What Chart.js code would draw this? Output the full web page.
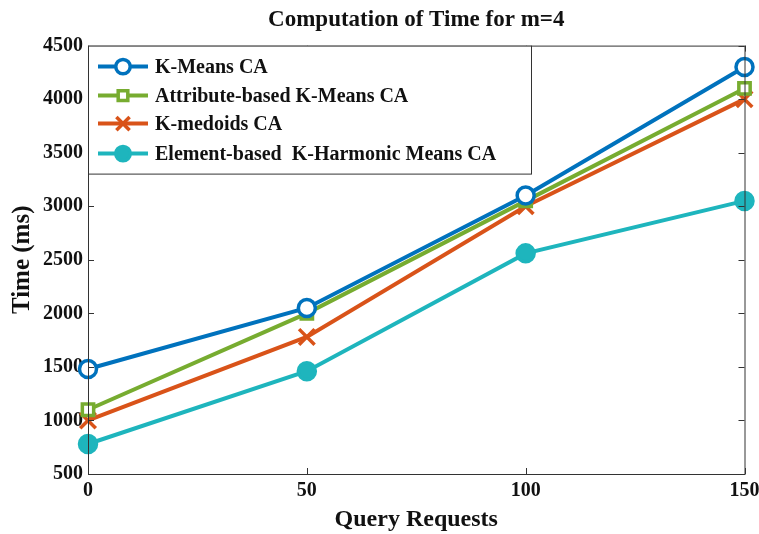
<!DOCTYPE html>
<html>
<head>
<meta charset="utf-8">
<script src="https://cdn.jsdelivr.net/npm/chart.js@4/dist/chart.umd.min.js"></script>
<style>
  html, body { margin: 0; padding: 0; background: #fff; }
  #wrap { width: 759px; height: 534px; }
</style>
</head>
<body>
<div id="wrap"><canvas id="c" width="759" height="534"></canvas></div>
<script>
// Query request counts on the x axis
const queryRequests = [0, 50, 100, 150];

// Computation time (ms) per clustering approach
const kMeans      = [1480, 2050, 3100, 4300];
const attrKMeans  = [1100, 2000, 3050, 4100];
const kMedoids    = [1000, 1780, 3000, 4000];
const elemKHM     = [780, 1460, 2560, 3050];

const seriesLabels = [
  'K-Means CA',
  'Attribute-based K-Means CA',
  'K-medoids CA',
  'Element-based  K-Harmonic Means CA'
];

const xTicks = [0, 50, 100, 150];
const yTicks = [500, 1000, 1500, 2000, 2500, 3000, 3500, 4000, 4500];

const FONT = "'Liberation Serif', 'Times New Roman', serif";
const AXIS_COLOR = '#333333';

function pts(vals) {
  return queryRequests.map((x, i) => ({ x: x, y: vals[i] }));
}

const styles = [
  { color: '#0072BD', pointStyle: 'circle',   radius: 8.5, fill: '#ffffff' },
  { color: '#77AC30', pointStyle: 'rect',     radius: 8,   fill: '#ffffff' },
  { color: '#D95319', pointStyle: 'crossRot', radius: 11,  fill: '#D95319' },
  { color: '#1EB5BD', pointStyle: 'circle',   radius: 8.5, fill: '#1EB5BD' }
];

const seriesValues = [kMeans, attrKMeans, kMedoids, elemKHM];

const datasets = seriesValues.map((vals, i) => ({
  label: seriesLabels[i],
  data: pts(vals),
  borderColor: styles[i].color,
  backgroundColor: styles[i].fill,
  borderWidth: 4,
  pointStyle: styles[i].pointStyle,
  pointRadius: styles[i].radius,
  pointBorderWidth: 3.5,
  pointBorderColor: styles[i].color,
  pointBackgroundColor: styles[i].fill,
  tension: 0,
  clip: false
}));

// Box around the plot, inward tick marks on all four sides, and the inset legend
const framePlugin = {
  id: 'frame',
  afterDraw(chart) {
    const { ctx, chartArea: a, scales } = chart;
    ctx.save();
    ctx.strokeStyle = AXIS_COLOR;
    ctx.lineWidth = 1;
    ctx.strokeRect(a.left + 0.5, a.top + 0.5, a.right - a.left, a.bottom - a.top);
    const tl = 6;
    ctx.beginPath();
    xTicks.forEach(v => {
      const px = Math.round(scales.x.getPixelForValue(v)) + 0.5;
      ctx.moveTo(px, a.bottom); ctx.lineTo(px, a.bottom - tl);
      ctx.moveTo(px, a.top);    ctx.lineTo(px, a.top + tl);
    });
    yTicks.forEach(v => {
      const py = Math.round(scales.y.getPixelForValue(v)) + 0.5;
      ctx.moveTo(a.left, py);  ctx.lineTo(a.left + tl, py);
      ctx.moveTo(a.right, py); ctx.lineTo(a.right - tl, py);
    });
    ctx.stroke();

    // inset legend box
    const bx = a.left, by = a.top, bw = 443, bh = 128;
    ctx.fillStyle = '#ffffff';
    ctx.fillRect(bx, by, bw, bh);
    ctx.strokeStyle = AXIS_COLOR;
    ctx.strokeRect(bx + 0.5, by + 0.5, bw, bh);

    const rowY = [by + 21, by + 50, by + 78, by + 108];
    chart.data.datasets.forEach((ds, i) => {
      const y = rowY[i];
      ctx.strokeStyle = ds.borderColor;
      ctx.lineWidth = 4;
      ctx.beginPath();
      ctx.moveTo(bx + 10, y); ctx.lineTo(bx + 60, y);
      ctx.stroke();
      ctx.lineWidth = 3.5;
      ctx.fillStyle = ds.pointBackgroundColor;
      Chart.helpers.drawPoint(ctx, {
        pointStyle: ds.pointStyle,
        radius: ds.pointRadius * 0.85,
        borderWidth: 3.5,
        rotation: 0
      }, bx + 35, y);
      ctx.fillStyle = '#111111';
      ctx.font = 'bold 20px ' + FONT;
      ctx.textBaseline = 'middle';
      ctx.textAlign = 'left';
      ctx.fillText(ds.label, bx + 67, y + 1);
    });
    ctx.restore();
  }
};

new Chart(document.getElementById('c'), {
  type: 'line',
  data: { datasets: datasets },
  options: {
    responsive: false,
    animation: false,
    devicePixelRatio: 1,
    layout: { padding: { left: 0, right: 14, top: 0, bottom: 0 } },
    plugins: {
      legend: { display: false },
      tooltip: { enabled: false },
      title: {
        display: true,
        fullSize: false,
        text: 'Computation of Time for m=4',
        color: '#111111',
        font: { family: FONT, size: 23, weight: 'bold' },
        padding: { top: 6, bottom: 12 }
      }
    },
    scales: {
      x: {
        type: 'linear',
        min: 0, max: 150,
        afterBuildTicks(s) { s.ticks = xTicks.map(v => ({ value: v })); },
        afterFit(s) { s.height = 60; s.paddingLeft = 0; s.paddingRight = 0; },
        grid: { display: false, drawTicks: false },
        border: { display: false },
        ticks: {
          color: '#111111',
          font: { family: FONT, size: 20, weight: 'bold' },
          padding: 5,
          maxRotation: 0,
          callback: v => String(v)
        },
        title: {
          display: true,
          text: 'Query Requests',
          color: '#111111',
          font: { family: FONT, size: 24, weight: 'bold' },
          padding: { top: 0, bottom: 0 }
        }
      },
      y: {
        type: 'linear',
        min: 500, max: 4500,
        afterBuildTicks(s) { s.ticks = yTicks.map(v => ({ value: v })); },
        afterFit(s) { s.width = 88; },
        grid: { display: false, drawTicks: false },
        border: { display: false },
        ticks: {
          color: '#111111',
          font: { family: FONT, size: 20, weight: 'bold' },
          padding: 5,
          callback: v => String(v)
        },
        title: {
          display: true,
          text: 'Time (ms)',
          color: '#111111',
          font: { family: FONT, size: 25, weight: 'bold' },
          padding: { top: 8, bottom: 0 }
        }
      }
    }
  },
  plugins: [framePlugin]
});
</script>
</body>
</html>
